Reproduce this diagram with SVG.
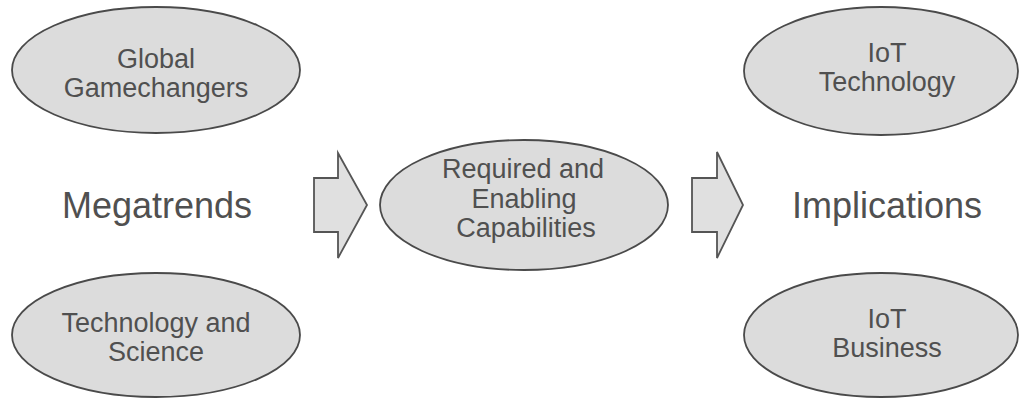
<svg xmlns="http://www.w3.org/2000/svg" width="1019" height="400" viewBox="0 0 1019 400">
<style>
.node ellipse{fill:#dcdcdc;stroke:#4a4a4a;stroke-width:1.8}
.t{font-family:"Liberation Sans",Arial,sans-serif;font-size:27px;fill:#505050;text-anchor:middle}
.big{font-family:"Liberation Sans",Arial,sans-serif;font-size:36px;fill:#505050;text-anchor:middle}
.arrow{fill:#e0e0e0;stroke:#555;stroke-width:1.8;stroke-linejoin:miter}
</style>
<rect width="1019" height="400" fill="#ffffff"/>
<g id="global-gamechangers" class="node">
<ellipse cx="156" cy="70" rx="144" ry="63"/>
<text class="t" x="156" y="68">Global</text>
<text class="t" x="156" y="97">Gamechangers</text>
</g>
<g id="technology-science" class="node">
<ellipse cx="156" cy="335" rx="144" ry="62"/>
<text class="t" x="156" y="332">Technology and</text>
<text class="t" x="156" y="361">Science</text>
</g>
<g id="megatrends">
<text class="big" x="157" y="218">Megatrends</text>
</g>
<g id="capabilities" class="node">
<ellipse cx="524" cy="205" rx="144" ry="65"/>
<text class="t" x="523" y="178">Required and</text>
<text class="t" x="524" y="208">Enabling</text>
<text class="t" x="526" y="237">Capabilities</text>
</g>
<g id="iot-technology" class="node">
<ellipse cx="881" cy="71" rx="137" ry="64"/>
<text class="t" x="887" y="62">IoT</text>
<text class="t" x="887" y="91">Technology</text>
</g>
<g id="iot-business" class="node">
<ellipse cx="881" cy="335" rx="137" ry="62"/>
<text class="t" x="887" y="328">IoT</text>
<text class="t" x="887" y="357">Business</text>
</g>
<g id="implications">
<text class="big" x="887" y="218">Implications</text>
</g>
<g id="connectors">
<polygon class="arrow" points="314,178 338,178 338,153 367,205 338,258 338,232 314,232"/>
<polygon class="arrow" points="692,178 717,178 717,152 743,205 717,258 717,232 692,232"/>
</g>
</svg>
